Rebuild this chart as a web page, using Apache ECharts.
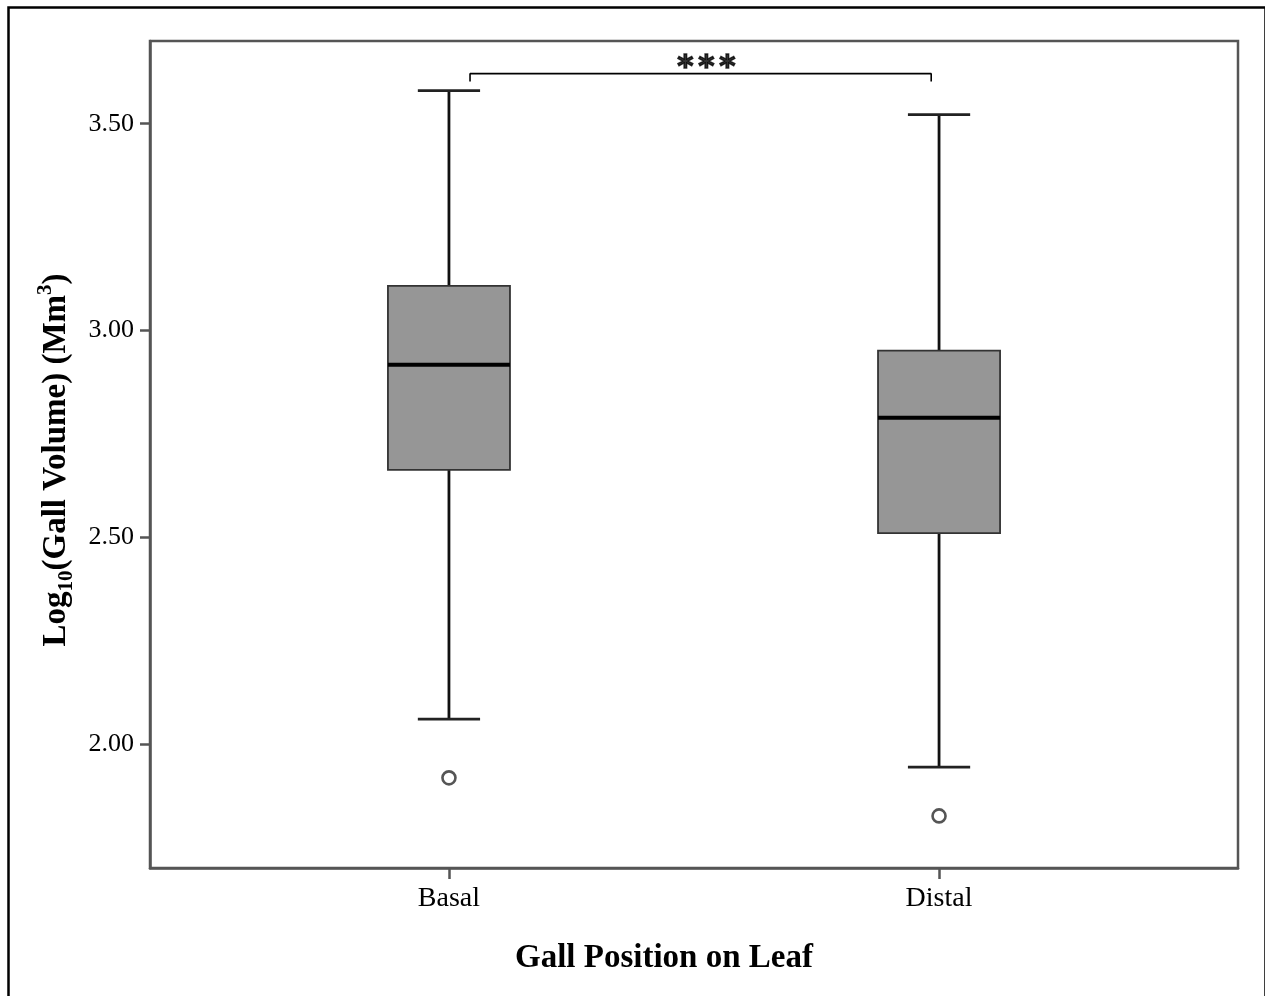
<!DOCTYPE html>
<html>
<head>
<meta charset="utf-8">
<script src="https://cdn.jsdelivr.net/npm/echarts@6/dist/echarts.min.js"></script>
<style>
html,body{margin:0;padding:0;background:#fff;}
#chart{width:1265px;height:996px;}
</style>
</head>
<body>
<div id="chart"></div>
<script>
// ---- data ----
const categories = ['Basal', 'Distal'];
const categoryX = [1, 2];
// [min, Q1, median, Q3, max]
const boxStats = [
  [2.060, 2.663, 2.917, 3.108, 3.580],
  [1.944, 2.510, 2.789, 2.951, 3.522]
];
const outliers = [[1, 1.918], [2, 1.826]];
const yTicks = [2.0, 2.5, 3.0, 3.5];
const bracketPts = [[1.043, 3.602], [1.043, 3.621], [1.984, 3.621], [1.984, 3.602]];
const sigLabel = [[1.525, 3.636]];

const boxData = categoryX.map((x, i) => [x].concat(boxStats[i]));

const chart = echarts.init(document.getElementById('chart'), null, {renderer: 'canvas'});
const serif = 'Liberation Serif';
const frameColor = '#555';

const option = {
  animation: false,
  backgroundColor: '#fff',
  graphic: [{
    type: 'rect', left: 6, top: 5, silent: true,
    shape: {x: 0, y: 0, width: 1257, height: 1000},
    style: {fill: 'none', stroke: '#000', lineWidth: 2.5}
  }],
  grid: {
    left: 150, right: 27, top: 41, bottom: 128,
    show: true, borderColor: frameColor, borderWidth: 2.5, backgroundColor: 'transparent'
  },
  xAxis: {
    type: 'value', min: 0.39, max: 2.61,
    name: 'Gall Position on Leaf', nameLocation: 'middle', nameGap: 74,
    nameTextStyle: {fontFamily: serif, fontWeight: 'bold', fontSize: 33, color: '#000', padding: [0, 60, 0, 0]},
    axisLine: {show: true, lineStyle: {color: frameColor, width: 2.5}},
    axisTick: {show: true, customValues: categoryX, length: 11, lineStyle: {color: frameColor, width: 2.5}},
    axisLabel: {
      customValues: categoryX, margin: 17,
      fontFamily: serif, fontSize: 28, color: '#000',
      formatter: v => categories[Math.round(v) - 1] || ''
    },
    splitLine: {show: false}
  },
  yAxis: {
    type: 'value', min: 1.7, max: 3.7,
    name: '{m|Log}{sub|10}{m|(Gall Volume) (Mm}{sup|3}{m|)}',
    nameLocation: 'middle', nameRotate: 90, nameGap: 73,
    nameTextStyle: {
      fontFamily: serif, fontWeight: 'bold', fontSize: 33, color: '#000',
      padding: [0, 11, 0, 0],
      rich: {
        m: {fontFamily: serif, fontWeight: 'bold', fontSize: 33, color: '#000', lineHeight: 42, verticalAlign: 'middle'},
        sub: {fontFamily: serif, fontWeight: 'bold', fontSize: 21, color: '#000', lineHeight: 21, verticalAlign: 'bottom'},
        sup: {fontFamily: serif, fontWeight: 'bold', fontSize: 21, color: '#000', lineHeight: 21, verticalAlign: 'top'}
      }
    },
    axisLine: {show: true, lineStyle: {color: frameColor, width: 2.5}},
    axisTick: {show: true, customValues: yTicks, length: 10, lineStyle: {color: frameColor, width: 2.5}},
    axisLabel: {
      customValues: yTicks, margin: 16,
      fontFamily: serif, fontSize: 26, color: '#000',
      formatter: v => Number(v).toFixed(2)
    },
    splitLine: {show: false}
  },
  series: [
    {
      type: 'custom',
      data: boxData,
      silent: true,
      renderItem: function (params, api) {
        const x = api.value(0);
        const pMin = api.coord([x, api.value(1)]);
        const pQ1 = api.coord([x, api.value(2)]);
        const pMed = api.coord([x, api.value(3)]);
        const pQ3 = api.coord([x, api.value(4)]);
        const pMax = api.coord([x, api.value(5)]);
        const boxW = api.size([0.249, 0])[0];
        const capW = api.size([0.127, 0])[0];
        const cx = pMed[0];
        const lineStyle = {stroke: '#111', lineWidth: 2.8};
        return {
          type: 'group',
          children: [
            {type: 'line', shape: {x1: cx, y1: pQ3[1], x2: cx, y2: pMax[1]}, style: lineStyle},
            {type: 'line', shape: {x1: cx, y1: pQ1[1], x2: cx, y2: pMin[1]}, style: lineStyle},
            {type: 'line', shape: {x1: cx - capW / 2, y1: pMax[1], x2: cx + capW / 2, y2: pMax[1]}, style: {stroke: '#222', lineWidth: 2.8}},
            {type: 'line', shape: {x1: cx - capW / 2, y1: pMin[1], x2: cx + capW / 2, y2: pMin[1]}, style: {stroke: '#222', lineWidth: 2.8}},
            {type: 'rect', shape: {x: cx - boxW / 2, y: pQ3[1], width: boxW, height: pQ1[1] - pQ3[1]},
              style: {fill: '#969696', stroke: '#333', lineWidth: 1.8}},
            {type: 'line', shape: {x1: cx - boxW / 2, y1: pMed[1], x2: cx + boxW / 2, y2: pMed[1]}, style: {stroke: '#000', lineWidth: 4}}
          ]
        };
      },
      encode: {x: 0, y: [1, 2, 3, 4, 5]},
      z: 2
    },
    {
      type: 'scatter',
      data: outliers,
      symbol: 'circle',
      symbolSize: 13,
      itemStyle: {color: '#fff', borderColor: '#555', borderWidth: 2.6, opacity: 1},
      silent: true,
      z: 3
    },
    {
      type: 'line',
      data: bracketPts,
      symbol: 'none',
      lineStyle: {color: '#000', width: 1.6},
      silent: true,
      z: 3
    },
    {
      type: 'scatter',
      data: sigLabel,
      symbolSize: 0,
      silent: true,
      label: {
        show: true, position: 'inside',
        formatter: '{a|*}{a|*}{a|*}',
        rich: {
          a: {fontFamily: 'DejaVu Sans', fontWeight: 'bold', fontSize: 31, color: '#000',
              textBorderColor: '#000', textBorderWidth: 1.4, width: 21, align: 'center'}
        }
      },
      z: 3
    }
  ]
};
chart.setOption(option);
</script>
</body>
</html>
